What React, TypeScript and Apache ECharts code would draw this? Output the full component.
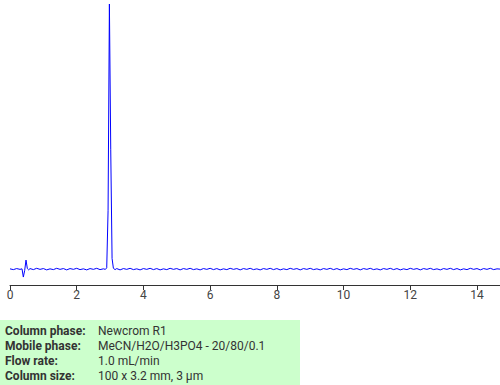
import React, { useEffect, useRef } from "react";
import * as echarts from "echarts";

const signal: [number, number][] = [
  [0.0, 0.1], [0.1, -0.2], [0.2, 0.2], [0.3, -0.1], [0.36, 0.1], [0.4, -3.0], [0.44, -0.5], [0.48, 3.4], [0.52, 0.2], [0.56, -0.3],
  [0.6, 0.2], [0.7, -0.2], [0.8, 0.3], [0.9, -0.1], [1.0, 0.2], [1.1, -0.3], [1.2, 0.1], [1.3, -0.2], [1.4, 0.3], [1.5, -0.1],
  [1.6, 0.2], [1.7, -0.3], [1.8, 0.2], [1.9, -0.1], [2.0, 0.3], [2.1, -0.2], [2.2, 0.1], [2.3, -0.3], [2.4, 0.2], [2.5, -0.1],
  [2.6, 0.3], [2.7, -0.2], [2.8, 0.1], [2.86, -0.1], [2.9, 0.5], [2.94, 22], [2.98, 100], [3.02, 45], [3.06, 4], [3.1, 0.3],
  [3.15, -0.2], [3.2, 0.2], [3.3, -0.3], [3.4, 0.2], [3.5, -0.1], [3.6, 0.3], [3.7, -0.2], [3.8, 0.1], [3.9, -0.3], [4.0, 0.2],
  [4.1, -0.1], [4.2, 0.3], [4.3, -0.2], [4.4, 0.2], [4.5, -0.3], [4.6, 0.1], [4.7, -0.2], [4.8, 0.3], [4.9, -0.1], [5.0, 0.2],
  [5.1, -0.3], [5.2, 0.2], [5.3, -0.1], [5.4, 0.3], [5.5, -0.2], [5.6, 0.1], [5.7, -0.3], [5.8, 0.2], [5.9, -0.1], [6.0, 0.3],
  [6.1, -0.2], [6.2, 0.2], [6.3, -0.3], [6.4, 0.1], [6.5, -0.2], [6.6, 0.3], [6.7, -0.1], [6.8, 0.2], [6.9, -0.3], [7.0, 0.2],
  [7.1, -0.1], [7.2, 0.3], [7.3, -0.2], [7.4, 0.1], [7.5, -0.3], [7.6, 0.2], [7.7, -0.1], [7.8, 0.3], [7.9, -0.2], [8.0, 0.2],
  [8.1, -0.3], [8.2, 0.1], [8.3, -0.2], [8.4, 0.3], [8.5, -0.1], [8.6, 0.2], [8.7, -0.3], [8.8, 0.2], [8.9, -0.1], [9.0, 0.3],
  [9.1, -0.2], [9.2, 0.1], [9.3, -0.3], [9.4, 0.2], [9.5, -0.1], [9.6, 0.3], [9.7, -0.2], [9.8, 0.2], [9.9, -0.3], [10.0, 0.1],
  [10.1, -0.2], [10.2, 0.3], [10.3, -0.1], [10.4, 0.2], [10.5, -0.3], [10.6, 0.2], [10.7, -0.1], [10.8, 0.3], [10.9, -0.2], [11.0, 0.1],
  [11.1, -0.3], [11.2, 0.2], [11.3, -0.1], [11.4, 0.3], [11.5, -0.2], [11.6, 0.2], [11.7, -0.3], [11.8, 0.1], [11.9, -0.2], [12.0, 0.3],
  [12.1, -0.1], [12.2, 0.2], [12.3, -0.3], [12.4, 0.2], [12.5, -0.1], [12.6, 0.3], [12.7, -0.2], [12.8, 0.1], [12.9, -0.3], [13.0, 0.2],
  [13.1, -0.1], [13.2, 0.3], [13.3, -0.2], [13.4, 0.2], [13.5, -0.3], [13.6, 0.1], [13.7, -0.2], [13.8, 0.3], [13.9, -0.1], [14.0, 0.2],
  [14.1, -0.3], [14.2, 0.2], [14.3, -0.1], [14.4, 0.3], [14.5, -0.2], [14.6, 0.1], [14.69, 0.0],
];

const xTicks = [0, 2, 4, 6, 8, 10, 12, 14];

const infoLabels = ["Column phase:", "Mobile phase:", "Flow rate:", "Column size:"];
const infoValues = ["Newcrom R1", "MeCN/H2O/H3PO4 - 20/80/0.1", "1.0 mL/min", "100 x 3.2 mm, 3 µm"];

export default function App() {
  const ref = useRef<HTMLDivElement>(null);
  useEffect(() => {
    if (!ref.current) return;
    const chart = echarts.init(ref.current, undefined, { renderer: "svg" });
    const rowY = [331, 346, 361, 375.5];
    const graphics: any[] = [
      { type: "rect", shape: { x: 0, y: 320, width: 300, height: 65 }, style: { fill: "#ccffcc" }, silent: true },
    ];
    infoLabels.forEach((l, i) => {
      graphics.push({
        type: "text", x: 5, y: rowY[i],
        style: { text: l, fill: "#333333", font: "bold 12px Roboto", textVerticalAlign: "middle" },
      });
      graphics.push({
        type: "text", x: 98, y: rowY[i],
        style: { text: infoValues[i], fill: "#333333", font: "12px Roboto", textVerticalAlign: "middle" },
      });
    });
    chart.setOption({
      animation: false,
      grid: { left: 10, right: 0, top: 4, bottom: 100 },
      xAxis: {
        type: "value",
        min: 0,
        max: 14.69,
        interval: 2,
        axisLine: { show: true, onZero: false, lineStyle: { color: "#333333", width: 1 } },
        axisTick: { show: true, length: 5, lineStyle: { color: "#333333" } },
        axisLabel: {
          color: "#444444", fontSize: 12, fontFamily: "Roboto", margin: 4,
          formatter: (v: number) => (xTicks.includes(v) ? String(v) : ""),
          showMaxLabel: false,
        },
        splitLine: { show: false },
      },
      yAxis: {
        type: "value",
        min: -6,
        max: 100,
        show: false,
        splitLine: { show: false },
      },
      series: [
        {
          type: "line",
          data: signal,
          showSymbol: false,
          lineStyle: { color: "#0000ff", width: 1 },
          silent: true,
        },
      ],
      graphic: graphics,
    });
    return () => chart.dispose();
  }, []);
  return <div ref={ref} style={{ width: 500, height: 385, position: "absolute", left: 0, top: 0 }} />;
}
